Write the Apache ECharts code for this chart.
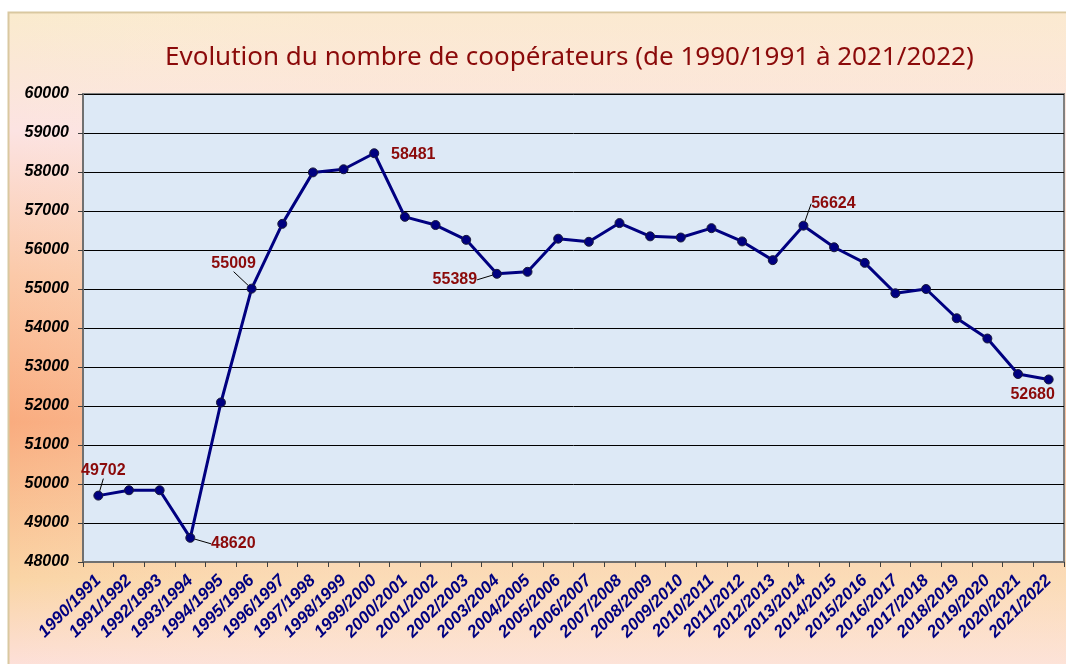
<!DOCTYPE html>
<html>
<head>
<meta charset="utf-8">
<title>Evolution du nombre de coopérateurs</title>
<script src="https://cdn.jsdelivr.net/npm/echarts@6/dist/echarts.min.js"></script>
<style>
    html, body { margin: 0; padding: 0; background: #fff; }
    #chart { width: 1066px; height: 664px; }
</style>
</head>
<body>
<div id="chart"></div>
<script>
// saisons
const seasons = [
    '1990/1991', '1991/1992', '1992/1993', '1993/1994', '1994/1995', '1995/1996',
    '1996/1997', '1997/1998', '1998/1999', '1999/2000', '2000/2001', '2001/2002',
    '2002/2003', '2003/2004', '2004/2005', '2005/2006', '2006/2007', '2007/2008',
    '2008/2009', '2009/2010', '2010/2011', '2011/2012', '2012/2013', '2013/2014',
    '2014/2015', '2015/2016', '2016/2017', '2017/2018', '2018/2019', '2019/2020',
    '2020/2021', '2021/2022'
]
// nombre de coopérateurs
const cooperateurs = [
    49702, 49840, 49840, 48620, 52090, 55009,
    56670, 57990, 58070, 58481, 56850, 56640,
    56260, 55389, 55440, 56290, 56210, 56690,
    56350, 56320, 56560, 56220, 55740, 56624,
    56070, 55670, 54890, 55000, 54250, 53730,
    52820, 52680
]
// graduations de l'axe Y
const yMin = 48000
const yMax = 60000
const yStep = 1000

// étiquettes affichées (index -> décalage par rapport au point, trait de rappel)
const labelShift = {
    0: [5, -25, true],
    3: [43, 6, true],
    5: [-18, -25, true],
    9: [39, 1, false],
    13: [-42, 6, true],
    23: [30, -22, true],
    31: [-16, 15, false]
}

const chart = echarts.init(document.getElementById('chart'))

const seriesData = cooperateurs.map((v, i) => {
    const s = labelShift[i]
    return {
        value: v,
        label: { show: s !== undefined },
        labelLine: { show: !!(s && s[2]) }
    }
})

chart.setOption({
    animation: false,
    graphic: [
        {
            type: 'rect',
            z: -10,
            shape: { x: 8.5, y: 12.5, width: 1070, height: 660 },
            style: {
                fill: new echarts.graphic.LinearGradient(0, 0, 0, 1, [
                    { offset: 0, color: '#faebcd' },
                    { offset: 0.18, color: '#fce3e2' },
                    { offset: 0.4, color: '#fbc9a8' },
                    { offset: 0.62, color: '#f9ac7f' },
                    { offset: 0.86, color: '#fad5a6' },
                    { offset: 1, color: '#fde1de' }
                ]),
                stroke: '#d9c8a0',
                lineWidth: 2
            }
        },
        {
            // éclaircissement vers la droite
            type: 'rect',
            z: -9,
            shape: { x: 9, y: 13, width: 1070, height: 660 },
            style: {
                fill: new echarts.graphic.LinearGradient(0, 0, 1, 0, [
                    { offset: 0, color: 'rgba(255,240,225,0)' },
                    { offset: 0.3, color: 'rgba(253,232,215,0.35)' },
                    { offset: 1, color: 'rgba(253,232,215,0.35)' }
                ])
            }
        }
    ],
    title: {
        text: 'Evolution du nombre de coopérateurs (de 1990/1991 à 2021/2022)',
        left: 160,
        top: 40,
        textStyle: {
            color: '#8b0a0a',
            fontFamily: 'Noto Sans',
            fontWeight: 'normal',
            fontSize: 26
        }
    },
    grid: {
        left: 83,
        right: 2,
        top: 94,
        bottom: 102,
        show: true,
        backgroundColor: '#dde9f6',
        borderColor: '#808080',
        borderWidth: 2
    },
    xAxis: {
        type: 'category',
        data: seasons,
        boundaryGap: true,
        axisLine: { lineStyle: { color: '#707070', width: 2 } },
        axisTick: { show: true, length: 5, lineStyle: { color: '#404040' } },
        axisLabel: {
            rotate: 45,
            interval: 0,
            margin: 16,
            color: '#000080',
            fontFamily: 'Liberation Sans',
            fontWeight: 'bold',
            fontStyle: 'italic',
            fontSize: 17
        },
        splitLine: { show: false }
    },
    yAxis: {
        type: 'value',
        min: yMin,
        max: yMax,
        interval: yStep,
        axisLine: { show: true, lineStyle: { color: '#707070', width: 2 } },
        axisTick: { show: true, length: 5, lineStyle: { color: '#404040' } },
        axisLabel: {
            margin: 14,
            color: '#000',
            fontFamily: 'Liberation Sans',
            fontWeight: 'bold',
            fontStyle: 'italic',
            fontSize: 16,
            formatter: function (v) { return String(v) }
        },
        splitLine: { lineStyle: { color: '#000', width: 1 } }
    },
    series: [
        {
            type: 'line',
            data: seriesData,
            symbol: 'circle',
            symbolSize: 9,
            lineStyle: { color: '#000080', width: 3 },
            itemStyle: { color: '#000080', borderColor: '#1a1a3a', borderWidth: 1 },
            label: {
                position: 'inside',
                color: '#8b0a0a',
                fontFamily: 'Liberation Sans',
                fontWeight: 'bold',
                fontSize: 16
            },
            labelLine: {
                show: true,
                lineStyle: { color: '#000', width: 1 }
            },
            labelLayout: function (params) {
                const s = labelShift[params.dataIndex]
                if (!s) return {}
                return { dx: s[0], dy: s[1] }
            }
        }
    ]
})
</script>
</body>
</html>
